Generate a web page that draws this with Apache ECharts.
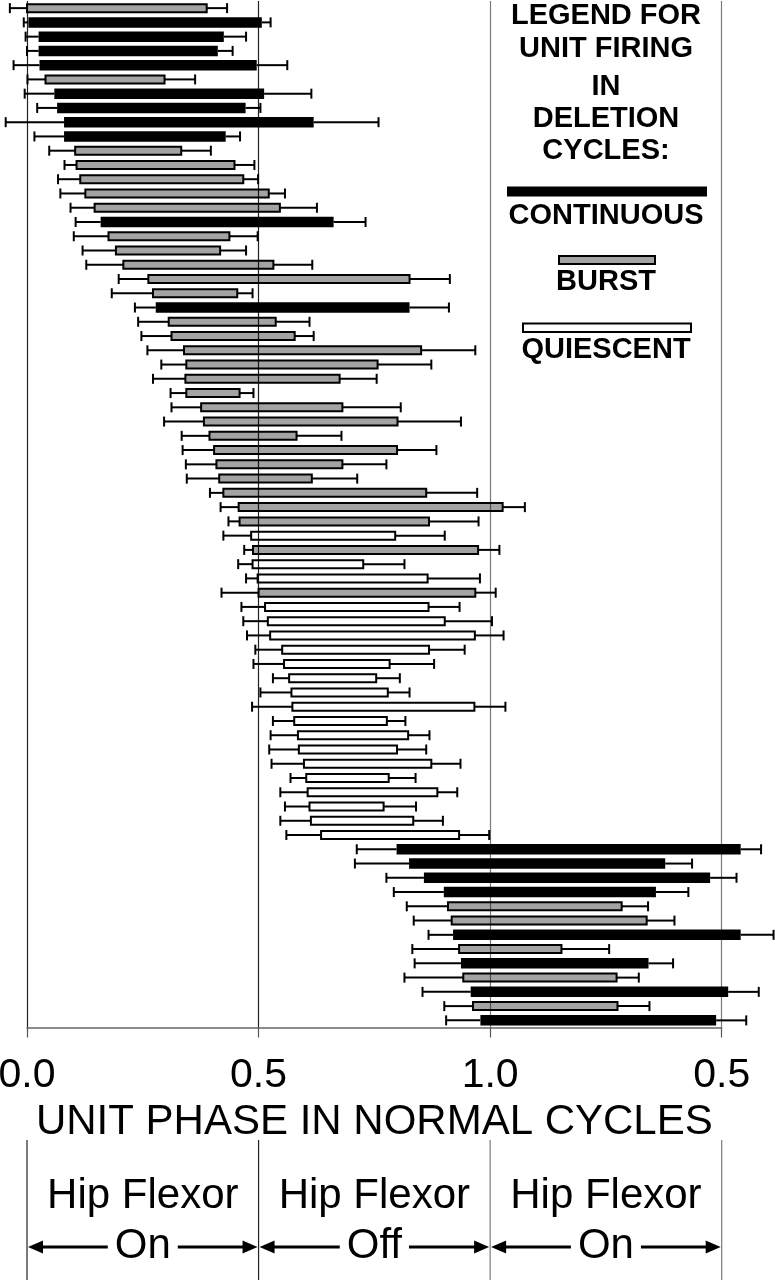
<!DOCTYPE html>
<html><head><meta charset="utf-8">
<script src="https://cdn.jsdelivr.net/npm/echarts@6/dist/echarts.min.js"></script>
<style>html,body{margin:0;padding:0;background:#fff}#c{width:775px;height:1280px}</style>
</head><body><div id="c"></div>
<script>
// ---------- data ----------
const units = ['1','2','3','4','5','6','7','8','9','10','11','12','13','14','15','16','17','18','19','20',
'21','22','23','24','25','26','27','28','29','30','31','32','33','34','35','36','37','38','39','40',
'41','42','43','44','45','46','47','48','49','50','51','52','53','54','55','56','57','58','59','60',
'61','62','63','64','65','66','67','68','69','70','71','72'];
// C = continuous, B = burst, Q = quiescent
const firingType = ['B','C','C','C','C','B','C','C','C','C',
'B','B','B','B','B','C','B','B','B','B',
'B','C','B','B','B','B','B','B','B','B',
'B','B','B','B','B','B','B','Q','B','Q',
'Q','B','Q','Q','Q','Q','Q','Q','Q','Q',
'Q','Q','Q','Q','Q','Q','Q','Q','Q','C',
'C','C','C','B','B','C','B','C','B','C',
'B','C'];
const whiskerLow = [-0.037,-0.007,-0.003,0.000,-0.029,0.001,-0.005,0.022,-0.046,0.016,
0.048,0.081,0.067,0.072,0.094,0.105,0.101,0.120,0.128,0.198,
0.183,0.233,0.240,0.247,0.260,0.290,0.272,0.310,0.312,0.296,
0.334,0.336,0.343,0.345,0.395,0.418,0.435,0.424,0.469,0.456,
0.473,0.420,0.463,0.467,0.475,0.493,0.489,0.531,0.504,0.486,
0.531,0.526,0.523,0.528,0.569,0.547,0.557,0.547,0.560,0.712,
0.708,0.776,0.792,0.820,0.835,0.867,0.832,0.837,0.815,0.854,
0.901,0.905];
const barStart = [0.000,0.003,0.025,0.025,0.027,0.040,0.059,0.065,0.080,0.080,
0.104,0.107,0.115,0.126,0.146,0.159,0.176,0.192,0.208,0.262,
0.272,0.278,0.306,0.312,0.339,0.344,0.342,0.344,0.376,0.382,
0.394,0.404,0.409,0.415,0.424,0.457,0.459,0.484,0.488,0.487,
0.498,0.500,0.514,0.520,0.525,0.551,0.555,0.566,0.571,0.573,
0.577,0.585,0.587,0.598,0.603,0.606,0.610,0.613,0.635,0.798,
0.825,0.857,0.900,0.909,0.917,0.920,0.933,0.937,0.942,0.958,
0.963,0.979];
const barEnd = [0.388,0.507,0.425,0.412,0.496,0.297,0.512,0.472,0.619,0.429,
0.333,0.448,0.467,0.522,0.546,0.662,0.437,0.417,0.532,0.826,
0.454,0.826,0.537,0.578,0.851,0.757,0.675,0.459,0.681,0.800,
0.582,0.799,0.681,0.615,0.862,1.027,0.868,0.795,0.974,0.726,
0.865,0.968,0.867,0.902,0.967,0.868,0.783,0.754,0.779,0.966,
0.777,0.823,0.799,0.873,0.781,0.886,0.770,0.834,0.933,1.541,
1.378,1.475,1.358,1.284,1.338,1.541,1.154,1.342,1.273,1.514,
1.275,1.488];
const whiskerHigh = [0.432,0.526,0.473,0.444,0.562,0.363,0.614,0.504,0.759,0.460,
0.397,0.491,0.499,0.557,0.626,0.731,0.498,0.473,0.616,0.913,
0.487,0.911,0.610,0.619,0.968,0.873,0.755,0.489,0.807,0.937,
0.679,0.884,0.776,0.713,0.972,1.075,0.975,0.902,1.020,0.815,
0.978,1.012,0.934,1.004,1.029,0.945,0.879,0.805,0.826,1.033,
0.817,0.869,0.862,0.936,0.839,0.929,0.840,0.898,0.998,1.585,
1.436,1.532,1.428,1.341,1.398,1.612,1.257,1.395,1.321,1.580,
1.344,1.553];
const tickValues = [0, 0.5, 1.0, 1.5];
const tickLabels = ['0.0', '0.5', '1.0', '0.5'];
const axisTitle = 'UNIT PHASE IN NORMAL CYCLES';
const regionTitles = ['Hip Flexor', 'Hip Flexor', 'Hip Flexor'];
const regionStates = ['On', 'Off', 'On'];
const legendTitleLines = ['LEGEND FOR', 'UNIT FIRING', 'IN', 'DELETION', 'CYCLES:'];
const legendNames = ['CONTINUOUS', 'BURST', 'QUIESCENT'];

// ---------- chart ----------
const FONT = '"Liberation Sans", Arial, Helvetica, sans-serif';
const chart = echarts.init(document.getElementById('c'), null, {renderer: 'canvas'});
const data = units.map((u, i) => [i, whiskerLow[i], barStart[i], barEnd[i], whiskerHigh[i]]);

const typeStyle = {
  C: {fill: '#000', stroke: null, lineWidth: 0, h: 10.5},
  B: {fill: 'rgba(0,0,0,0.36)', stroke: '#000', lineWidth: 2, h: 8},
  Q: {fill: 'rgba(255,255,255,0)', stroke: '#000', lineWidth: 2, h: 8}
};

function renderItem(params, api) {
  const cat = api.value(0);
  const pWl = api.coord([api.value(1), cat]);
  const pBs = api.coord([api.value(2), cat]);
  const pBe = api.coord([api.value(3), cat]);
  const pWr = api.coord([api.value(4), cat]);
  const y = pBs[1];
  const st = typeStyle[firingType[params.dataIndex]];
  const ls = {stroke: '#000', lineWidth: 2};
  const children = [
    {type: 'line', shape: {x1: pWl[0], y1: y, x2: pBs[0], y2: y}, style: ls},
    {type: 'line', shape: {x1: pBe[0], y1: y, x2: pWr[0], y2: y}, style: ls},
    {type: 'line', shape: {x1: pWl[0], y1: y - 5, x2: pWl[0], y2: y + 5}, style: ls},
    {type: 'line', shape: {x1: pWr[0], y1: y - 5, x2: pWr[0], y2: y + 5}, style: ls},
    {type: 'rect', shape: {x: pBs[0], y: y - st.h / 2, width: pBe[0] - pBs[0], height: st.h},
      style: {fill: st.fill, stroke: st.stroke, lineWidth: st.lineWidth}}
  ];
  return {type: 'group', children};
}

const option = {
  animation: false,
  backgroundColor: '#fff',
  grid: {left: 27, right: 53.3, top: 1, bottom: 252.5, containLabel: false, outerBoundsMode: 'none'},
  xAxis: {
    type: 'value', min: 0, max: 1.5, interval: 0.5,
    axisLine: {show: true, lineStyle: {color: '#666', width: 1.5}},
    axisTick: {show: true, length: 10, lineStyle: {color: '#555', width: 1.2}},
    axisLabel: {
      show: true, fontSize: 41, color: '#000', fontFamily: FONT, margin: 28,
      showMinLabel: true, showMaxLabel: true,
      formatter: v => { const k = tickValues.findIndex(t => Math.abs(t - v) < 1e-6); return k >= 0 ? tickLabels[k] : ''; }
    },
    splitLine: {show: true, lineStyle: {color: ['#222', '#222', '#7a7a7a', '#7a7a7a'], width: 1.2}},
    name: axisTitle, nameLocation: 'middle', nameGap: 73,
    nameTextStyle: {fontSize: 42, color: '#000', fontFamily: FONT}
  },
  yAxis: {
    type: 'category', data: units, inverse: true, boundaryGap: true,
    axisLine: {show: false}, axisTick: {show: false}, axisLabel: {show: false}, splitLine: {show: false}
  },
  series: [{
    type: 'custom', name: 'Unit phase', renderItem, clip: false,
    encode: {x: [1, 2, 3, 4], y: 0},
    data
  }]
};
chart.setOption(option);

// ---------- legend + bottom phase annotation ----------
const ctx = document.createElement('canvas').getContext('2d');
function textW(t, size, weight) { ctx.font = (weight || 'normal') + ' ' + size + 'px ' + FONT; return ctx.measureText(t).width; }

const g = [];
const legX = 606;
const titleY = [16, 49, 87, 119, 151];
legendTitleLines.forEach((t, i) => g.push({type: 'text', x: legX, y: titleY[i],
  style: {text: t, fontSize: 29, fontWeight: 'bold', fontFamily: FONT, fill: '#000', align: 'center', verticalAlign: 'middle'}}));
// legend swatches
g.push({type: 'rect', shape: {x: 507, y: 186.5, width: 200, height: 10}, style: {fill: typeStyle.C.fill}});
g.push({type: 'rect', shape: {x: 559, y: 256, width: 96, height: 8}, style: {fill: typeStyle.B.fill, stroke: '#000', lineWidth: 2}});
g.push({type: 'rect', shape: {x: 523, y: 323.5, width: 168, height: 8.5}, style: {fill: '#fff', stroke: '#000', lineWidth: 2}});
const legNameY = [216, 282, 350];
legendNames.forEach((t, i) => g.push({type: 'text', x: legX, y: legNameY[i],
  style: {text: t, fontSize: 29, fontWeight: 'bold', fontFamily: FONT, fill: '#000', align: 'center', verticalAlign: 'middle'}}));

// bottom phase regions
const X = v => chart.convertToPixel({xAxisIndex: 0}, v);
const lineCols = ['#222', '#222', '#7a7a7a', '#7a7a7a'];
tickValues.forEach((v, i) => g.push({type: 'line', shape: {x1: X(v), y1: 1140, x2: X(v), y2: 1280},
  style: {stroke: lineCols[i], lineWidth: 1.2}}));
const arrowY = 1247;
for (let i = 0; i < 3; i++) {
  const xl = X(tickValues[i]), xr = X(tickValues[i + 1]), xc = (xl + xr) / 2;
  g.push({type: 'text', x: xc, y: 1196, style: {text: regionTitles[i], fontSize: 42, fontFamily: FONT, fill: '#000', align: 'center', verticalAlign: 'middle'}});
  g.push({type: 'text', x: xc, y: 1246, style: {text: regionStates[i], fontSize: 42, fontFamily: FONT, fill: '#000', align: 'center', verticalAlign: 'middle'}});
  const w = textW(regionStates[i], 42);
  const tl = xc - w / 2 - 7, tr = xc + w / 2 + 7;
  g.push({type: 'line', shape: {x1: xl + 10, y1: arrowY, x2: tl, y2: arrowY}, style: {stroke: '#000', lineWidth: 3}});
  g.push({type: 'line', shape: {x1: tr, y1: arrowY, x2: xr - 10, y2: arrowY}, style: {stroke: '#000', lineWidth: 3}});
  g.push({type: 'polygon', shape: {points: [[xl + 1, arrowY], [xl + 16, arrowY - 6.5], [xl + 16, arrowY + 6.5]]}, style: {fill: '#000'}});
  g.push({type: 'polygon', shape: {points: [[xr - 1, arrowY], [xr - 16, arrowY - 6.5], [xr - 16, arrowY + 6.5]]}, style: {fill: '#000'}});
}
chart.setOption({graphic: {elements: g}});
</script>
</body></html>
